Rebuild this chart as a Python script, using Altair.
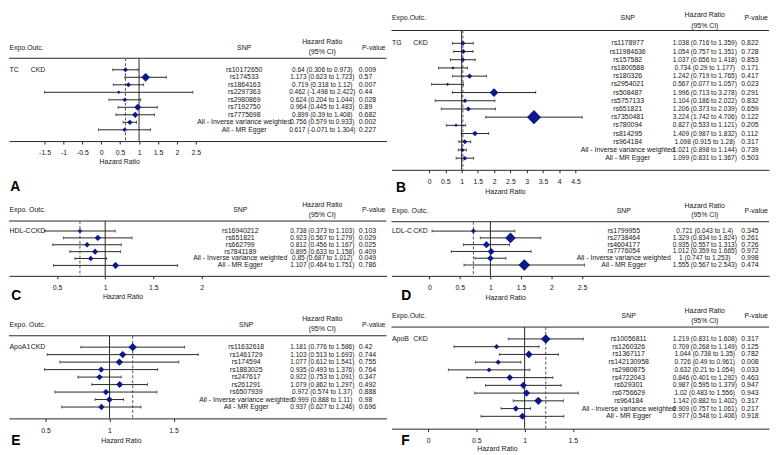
import altair as alt
import pandas as pd

FONT = "Liberation Sans"
TXT = "#151515"
LINE = "#262626"
NAVY = "#0b1a8a"

# ---------------- Panel A : TC -> CKD
A_SNP = ["rs10172650", "rs174533", "rs1864163", "rs2297363", "rs2980869", "rs7192750",
         "rs7775698", "All - Inverse variance weighted", "All - MR Egger"]
A_HR = [0.64, 1.173, 0.719, 0.462, 0.624, 0.964, 0.899, 0.756, 0.617]
A_LO = [0.306, 0.623, 0.318, -1.498, 0.204, 0.445, 0.39, 0.579, -0.071]
A_HI = [0.973, 1.723, 1.12, 2.422, 1.044, 1.483, 1.408, 0.933, 1.304]
A_P = [0.009, 0.57, 0.007, 0.44, 0.028, 0.89, 0.682, 0.002, 0.227]
A_W = [4.7, 8.3, 4.7, 3.3, 4.3, 6.7, 6, 5, 4.3]
A_TICKS = [-1.5, -1, -0.5, 0, 0.5, 1, 1.5, 2, 2.5]

# ---------------- Panel B : TG -> CKD
B_SNP = ["rs1178977", "rs11984636", "rs157582", "rs1800588", "rs180326", "rs2954021",
         "rs508487", "rs5757133", "rs651821", "rs7350481", "rs780094", "rs814295",
         "rs964184", "All - Inverse variance weighted", "All - MR Egger"]
B_HR = [1.038, 1.054, 1.037, 0.734, 1.242, 0.567, 1.996, 1.104, 1.206, 3.224, 0.827,
        1.409, 1.098, 1.021, 1.099]
B_LO = [0.716, 0.757, 0.656, 0.29, 0.719, 0.077, 0.713, 0.186, 0.373, 1.742, 0.533,
        0.987, 0.915, 0.898, 0.831]
B_HI = [1.359, 1.351, 1.418, 1.177, 1.765, 1.057, 3.278, 2.022, 2.039, 4.706, 1.121,
        1.832, 1.28, 1.144, 1.367]
B_P = [0.822, 0.728, 0.853, 0.171, 0.417, 0.023, 0.291, 0.832, 0.659, 0.122, 0.205,
       0.112, 0.317, 0.739, 0.503]
B_W = [4.7, 4.7, 4.3, 3, 5, 3, 8.3, 4.3, 4.7, 13.3, 3.3, 5.3, 4.7, 4, 4.3]
B_TICKS = [0, 0.5, 1, 1.5, 2, 2.5, 3, 3.5, 4, 4.5]

# ---------------- Panel C : HDL-C -> CKD
C_SNP = ["rs16940212", "rs651821", "rs662799", "rs7841189",
         "All - Inverse variance weighted", "All - MR Egger"]
C_HR = [0.738, 0.923, 0.812, 0.895, 0.85, 1.107]
C_LO = [0.373, 0.567, 0.456, 0.633, 0.687, 0.464]
C_HI = [1.103, 1.279, 1.167, 1.158, 1.012, 1.751]
C_P = [0.103, 0.029, 0.025, 0.409, 0.049, 0.786]
C_W = [4.3, 6, 5.3, 5.7, 5.3, 6.7]
C_TICKS = [0.5, 1, 1.5, 2]

# ---------------- Panel D : LDL-C -> CKD
D_SNP = ["rs1799955", "rs2738464", "rs4604177", "rs7776054",
         "All - Inverse variance weighted", "All - MR Egger"]
D_HR = [0.721, 1.329, 0.935, 1.012, 1, 1.555]
D_LO = [0.043, 0.834, 0.557, 0.359, 0.747, 0.567]
D_HI = [1.4, 1.824, 1.313, 1.665, 1.253, 2.543]
D_P = [0.345, 0.261, 0.726, 0.972, 0.998, 0.474]
D_W = [4.7, 10, 6.7, 6.7, 6.3, 11]
D_TICKS = [0, 0.5, 1, 1.5, 2, 2.5]

# ---------------- Panel E : ApoA1 -> CKD
E_SNP = ["rs11632618", "rs1461729", "rs174594", "rs1883025", "rs247617", "rs261291",
         "rs6507939", "All - Inverse variance weighted", "All - MR Egger"]
E_HR = [1.181, 1.103, 1.077, 0.935, 0.922, 1.079, 0.972, 0.999, 0.937]
E_LO = [0.776, 0.513, 0.612, 0.493, 0.753, 0.862, 0.574, 0.888, 0.627]
E_HI = [1.586, 1.693, 1.541, 1.376, 1.091, 1.297, 1.37, 1.11, 1.246]
E_P = [0.42, 0.744, 0.755, 0.764, 0.347, 0.492, 0.888, 0.98, 0.696]
E_W = [8, 7, 7, 6, 6, 6.7, 6, 6.3, 6]
E_TICKS = [0.5, 1, 1.5]

# ---------------- Panel F : ApoB -> CKD
F_SNP = ["rs10056811", "rs1260326", "rs1367117", "rs142130958", "rs2980875", "rs4722043",
         "rs629301", "rs6756629", "rs964184", "All - Inverse variance weighted",
         "All - MR Egger"]
F_HR = [1.219, 0.709, 1.044, 0.726, 0.632, 0.846, 0.987, 1.02, 1.142, 0.909, 0.977]
F_LO = [0.831, 0.268, 0.738, 0.49, 0.21, 0.401, 0.595, 0.483, 0.882, 0.757, 0.548]
F_HI = [1.608, 1.149, 1.35, 0.961, 1.054, 1.292, 1.379, 1.556, 1.402, 1.061, 1.406]
F_P = [0.317, 0.125, 0.782, 0.008, 0.033, 0.463, 0.947, 0.943, 0.317, 0.217, 0.918]
F_W = [9, 5, 7.3, 5, 4.7, 6.3, 6.7, 6.7, 7.7, 6, 6.7]
F_TICKS = [0, 0.5, 1, 1.5]


def panel(snp, hr, lo, hi, p, w, ticks, expo, outc, expo_hdr, letter, g):
    n = len(snp)
    df = pd.DataFrame({
        "row": list(range(n)), "snp": snp, "hr": hr, "lo": lo, "hi": hi,
        "ci": [f"{h:g} ({a:g} to {b:g})" for h, a, b in zip(hr, lo, hi)],
        "p": [f"{v:g}" for v in p], "w": w,
    })
    one = pd.DataFrame({"k": [0]})
    W, H, L, AX = g["W"], g["H"], g["L"], g["AX"]
    xs = alt.Scale(domain=g["dom"], nice=False, zero=False)
    ys = alt.Scale(domain=[0, n - 1], range=[g["r0"], g["r1"]], nice=False, zero=False)
    xa = alt.Axis(values=ticks, title="Hazard Ratio", grid=False, offset=AX - H,
                  labelExpr="datum.value + ''", labelOverlap=False, labelFlush=False,
                  tickSize=3, labelPadding=5, titleX=g["tx"], titleY=g["ty"],
                  titleAlign="center", titleBaseline="middle", titleFontWeight="normal")

    def X(f):
        return alt.X(f, scale=xs, axis=xa)

    Y = alt.Y("row:Q", scale=ys, axis=None)
    base = alt.Chart(df)
    txt = dict(font=FONT, color=TXT, baseline="middle")
    hy = g["hdr"]
    layers = [
        alt.Chart(one).mark_rule(color=LINE, strokeWidth=1).encode(
            x=alt.value(0), x2=alt.value(W), y=alt.value(L)),
        alt.Chart(one).mark_rule(color=LINE, strokeWidth=1).encode(
            x=alt.XDatum(1, scale=xs, axis=xa), y=alt.value(L), y2=alt.value(AX)),
        base.transform_filter("datum.row == 0").mark_rule(
            color="#555555", strokeWidth=1, strokeDash=[3, 2]).encode(
            x=X("hr:Q"), y=alt.value(L), y2=alt.value(AX)),
        base.mark_rule(color=LINE, strokeWidth=1).encode(x=X("lo:Q"), x2="hi:Q", y=Y),
        base.mark_tick(orient="vertical", size=3, thickness=1, color=LINE).encode(x=X("lo:Q"), y=Y),
        base.mark_tick(orient="vertical", size=3, thickness=1, color=LINE).encode(x=X("hi:Q"), y=Y),
        base.mark_point(shape="diamond", filled=True, opacity=1, color=NAVY).encode(
            x=X("hr:Q"), y=Y,
            size=alt.Size("w:Q", scale=alt.Scale(type="pow", exponent=2, domain=[0, 14],
                                                 range=[0, 225]), legend=None)),
        base.mark_text(align="center", fontSize=7, **txt).encode(
            x=alt.value(g["sx"]), y=Y, text="snp:N"),
        base.mark_text(align="center", fontSize=6.6, **txt).encode(
            x=alt.value(317), y=Y, text="ci:N"),
        base.mark_text(align="left", fontSize=7, **txt).encode(
            x=alt.value(354), y=Y, text="p:N"),
        base.transform_filter("datum.row == 0").mark_text(
            align="left", fontSize=7, text=expo, **txt).encode(x=alt.value(0.5), y=Y),
        base.transform_filter("datum.row == 0").mark_text(
            align="left", fontSize=7, text=outc, **txt).encode(x=alt.value(22), y=Y),
        alt.Chart(one).mark_text(align="left", fontSize=7, text=expo_hdr, **txt).encode(
            x=alt.value(0.5), y=alt.value(L + hy[0])),
        alt.Chart(one).mark_text(align="center", fontSize=7, text="SNP", **txt).encode(
            x=alt.value(g["sx"]), y=alt.value(L + hy[0])),
        alt.Chart(one).mark_text(align="center", fontSize=7, text="Hazard Ratio", **txt).encode(
            x=alt.value(317), y=alt.value(L + hy[1])),
        alt.Chart(one).mark_text(align="center", fontSize=7, text="(95% CI)", **txt).encode(
            x=alt.value(317), y=alt.value(L + hy[2])),
        alt.Chart(one).mark_text(align="center", fontSize=7, text="P-value", **txt).encode(
            x=alt.value(369), y=alt.value(L + hy[0])),
        alt.Chart(one).mark_text(align="left", fontSize=14, fontWeight="bold",
                                 text=letter, font=FONT, color="#000000",
                                 baseline="middle").encode(
            x=alt.value(g["lx"]), y=alt.value(AX + g["ly"])),
    ]
    return alt.layer(*layers).properties(width=W, height=H)


GEO = {
    "A": dict(W=382, H=160.1, AX=131.0, L=47.2, r0=58.9, r1=119.6, dom=[-2.441, 7.546],
              tx=111.6, ty=20.6, sx=238, lx=1.3, ly=47, hdr=(-10.8, -16.1, -6.3)),
    "B": dict(W=382, H=160.1, AX=160.1, L=19.1, r0=32.1, r1=148.3, dom=[-1.157, 10.45],
              tx=114.9, ty=22.2, sx=239, lx=4.6, ly=18.3, hdr=(-13.0, -15.7, -4.9)),
    "C": dict(W=382, H=106.4, AX=106.4, L=50.9, r0=61.0, r1=95.8, dom=[0.002, 3.918],
              tx=114.9, ty=20.9, sx=234, lx=2.3, ly=20.2, hdr=(-10.8, -16.0, -6.0)),
    "D": dict(W=382, H=106.4, AX=106.4, L=51.6, r0=61.1, r1=95.4, dom=[-0.621, 5.564],
              tx=115.0, ty=21.8, sx=235, lx=10, ly=20.2, hdr=(-10.8, -16.3, -6.5)),
    "E": dict(W=382, H=154.0, AX=143.6, L=60.0, r0=71.5, r1=132.1, dom=[0.215, 3.163],
              tx=113.3, ty=22.2, sx=240, lx=2.3, ly=23.2, hdr=(-11.0, -16.6, -7.0)),
    "F": dict(W=382, H=154.0, AX=154.0, L=51.2, r0=63.2, r1=141.5, dom=[-0.38, 3.533],
              tx=106.7, ty=20.5, sx=240, lx=10, ly=13, hdr=(-10.8, -16.0, -6.0)),
}

pA = panel(A_SNP, A_HR, A_LO, A_HI, A_P, A_W, A_TICKS, "TC", "CKD", "Expo.Outc.", "A", GEO["A"])
pB = panel(B_SNP, B_HR, B_LO, B_HI, B_P, B_W, B_TICKS, "TG", "CKD", "Expo.Outc.", "B", GEO["B"])
pC = panel(C_SNP, C_HR, C_LO, C_HI, C_P, C_W, C_TICKS, "HDL-C", "CKD", "Expo. Outc.", "C", GEO["C"])
pD = panel(D_SNP, D_HR, D_LO, D_HI, D_P, D_W, D_TICKS, "LDL-C", "CKD", "Expo. Outc.", "D", GEO["D"])
pE = panel(E_SNP, E_HR, E_LO, E_HI, E_P, E_W, E_TICKS, "ApoA1", "CKD", "Expo. Outc.", "E", GEO["E"])
pF = panel(F_SNP, F_HR, F_LO, F_HI, F_P, F_W, F_TICKS, "ApoB", "CKD", "Expo.Outc.", "F", GEO["F"])

chart = alt.concat(pA, pB, pC, pD, pE, pF, columns=2, bounds="flush",
                   spacing=alt.RowColnumber(row=0, column=5)).properties(
    padding=0, background="white"
).configure_view(stroke=None).configure_axis(
    domainColor=LINE, tickColor=LINE, labelColor=TXT, titleColor=TXT,
    labelFont=FONT, titleFont=FONT, labelFontSize=7, titleFontSize=7,
    domainWidth=1, tickWidth=1,
)

chart.save("out.html", embed_options={"renderer": "svg", "actions": False})
